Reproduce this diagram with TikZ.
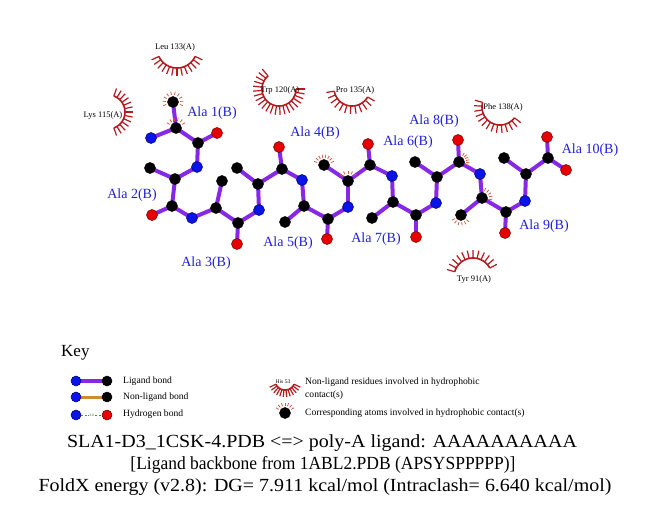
\documentclass[tikz,border=0pt]{standalone}
\usepackage{fontspec}
\setmainfont{Liberation Serif}
\usetikzlibrary{calc}
\pgfdeclarelayer{background}
\pgfsetlayers{background,main}
\definecolor{bondpurple}{RGB}{135,40,230}
\definecolor{atomblue}{RGB}{10,20,230}
\definecolor{atomred}{RGB}{230,0,0}
\definecolor{labelblue}{RGB}{30,30,220}
\definecolor{arcred}{RGB}{180,25,30}
\definecolor{spokered}{RGB}{215,90,70}
\definecolor{nlbond}{RGB}{205,140,50}
\definecolor{hbgreen}{RGB}{40,160,40}
\tikzset{
  atomC/.style={circle, fill=black, draw=black, line width=0.5pt, inner sep=0pt, minimum size=11pt},
  atomN/.style={atomC, fill=atomblue, draw=blue!40!black},
  atomO/.style={atomC, fill=atomred, draw=red!40!black},
  keyatom/.style={minimum size=10pt},
  lbond/.style={line width=4pt, draw=bondpurple},
  nbond/.style={line width=3pt, draw=nlbond},
  hbond/.style={line width=1pt, draw=hbgreen, dash pattern=on 2pt off 1.5pt},
  reslab/.style={font=\fontsize{14}{16}\selectfont, text=labelblue, inner sep=0pt},
  contlab/.style={font=\fontsize{8.5}{10}\selectfont, inner sep=0pt},
  harcline/.style={draw=arcred, line width=1.6pt},
  hspoke/.style={draw=arcred, line width=1.2pt},
  aspoke/.style={draw=spokered, line width=0.8pt},
  keytxt/.style={font=\fontsize{9.6}{11}\selectfont, anchor=west, inner sep=0pt},
  titletxt/.style={font=\fontsize{18.5}{21}\selectfont, inner sep=0pt},
}
% cx cy rin rout a1 a2 n
\newcommand\harc[7]{%
  \draw[harcline] plot[domain=#5:#6, samples=40, smooth] ({#1+#3*cos(\x)},{#2+#3*sin(\x)});
  \foreach \i in {0,...,#7}{
    \pgfmathsetmacro\tang{#5+(#6-#5)*\i/#7}
    \draw[hspoke] ({#1+#3*cos(\tang)},{#2+#3*sin(\tang)}) -- ({#1+#4*cos(\tang)},{#2+#4*sin(\tang)});
  }
}
% node a1 a2 n
\newcommand\aspk[4]{%
  \foreach \i in {0,...,#4}{
    \pgfmathsetmacro\tang{#2+(#3-#2)*\i/#4}
    \draw[aspoke] ($(#1)+(\tang:7.2)$) -- ($(#1)+(\tang:10.5)$);
  }
}
\begin{document}
\begin{tikzpicture}[x=1pt,y=-1pt]
\useasboundingbox (0,0) rectangle (651,511);
% ---------- atoms ----------
\node[atomN] (N1) at (151,138) {};
\node[atomC] (CA1) at (176,128) {};
\node[atomC] (CB1) at (173,102) {};
\node[atomC] (C1) at (198,143) {};
\node[atomO] (O1) at (217,133) {};
\node[atomN] (N2) at (197,167) {};
\node[atomC] (CA2) at (175,179) {};
\node[atomC] (CB2) at (150,168) {};
\node[atomC] (C2) at (172,206) {};
\node[atomO] (O2) at (152,215) {};
\node[atomN] (N3) at (192,218) {};
\node[atomC] (CA3) at (216,208) {};
\node[atomC] (CB3) at (222,181) {};
\node[atomC] (C3) at (238,223) {};
\node[atomO] (O3) at (237,244) {};
\node[atomN] (N4) at (259,210) {};
\node[atomC] (CA4) at (258,184) {};
\node[atomC] (CB4) at (237,168) {};
\node[atomC] (C4) at (282,169) {};
\node[atomO] (O4) at (279,147) {};
\node[atomN] (N5) at (302,180) {};
\node[atomC] (CA5) at (304,206) {};
\node[atomC] (CB5) at (285,222) {};
\node[atomC] (C5) at (328,219) {};
\node[atomO] (O5) at (327,239) {};
\node[atomN] (N6) at (348,207) {};
\node[atomC] (CA6) at (348,181) {};
\node[atomC] (CB6) at (324,165) {};
\node[atomC] (C6) at (370,165) {};
\node[atomO] (O6) at (368,144) {};
\node[atomN] (N7) at (392,176) {};
\node[atomC] (CA7) at (393,202) {};
\node[atomC] (CB7) at (372,218) {};
\node[atomC] (C7) at (416,215) {};
\node[atomO] (O7) at (416,237) {};
\node[atomN] (N8) at (436,203) {};
\node[atomC] (CA8) at (437,177) {};
\node[atomC] (CB8) at (415,162) {};
\node[atomC] (C8) at (459,162) {};
\node[atomO] (O8) at (458,140) {};
\node[atomN] (N9) at (480,174) {};
\node[atomC] (CA9) at (482,198) {};
\node[atomC] (CB9) at (461,215) {};
\node[atomC] (C9) at (506,212) {};
\node[atomO] (O9) at (505,233) {};
\node[atomN] (N10) at (525,201) {};
\node[atomC] (CA10) at (526,174) {};
\node[atomC] (CB10) at (504,158) {};
\node[atomC] (C10) at (548,158) {};
\node[atomO] (O10) at (547,137) {};
\node[atomO] (OXT) at (566,170) {};
% ---------- bonds ----------
\begin{pgfonlayer}{background}
\foreach \r in {1,...,10}{
  \draw[lbond] (N\r.center) -- (CA\r.center);
  \draw[lbond] (CA\r.center) -- (CB\r.center);
  \draw[lbond] (CA\r.center) -- (C\r.center);
  \draw[lbond] (C\r.center) -- (O\r.center);
}
\foreach \r/\s in {1/2,2/3,3/4,4/5,5/6,6/7,7/8,8/9,9/10}{
  \draw[lbond] (C\r.center) -- (N\s.center);
}
\draw[lbond] (C10.center) -- (OXT.center);
\end{pgfonlayer}
% ---------- hydrophobic atoms ----------
\aspk{CB1}{-200}{20}{9}
\aspk{CA1}{-150}{-30}{5}
\aspk{CB6}{-160}{-20}{7}
\aspk{CA6}{-140}{-40}{4}
\aspk{C8}{-60}{20}{5}
\aspk{CA9}{-70}{10}{4}
\aspk{CB9}{40}{150}{5}
% ---------- residue labels ----------
\node[reslab] (L1) at (212,113) {Ala 1(B)};
\node[reslab] (L2) at (132,195) {Ala 2(B)};
\node[reslab] (L3) at (206,263) {Ala 3(B)};
\node[reslab] (L4) at (315,133) {Ala 4(B)};
\node[reslab] (L5) at (288,243) {Ala 5(B)};
\node[reslab] (L6) at (408,142) {Ala 6(B)};
\node[reslab] (L7) at (376,239) {Ala 7(B)};
\node[reslab] (L8) at (434,121) {Ala 8(B)};
\node[reslab] (L9) at (544,226) {Ala 9(B)};
\node[reslab] (L10) at (590,150) {Ala 10(B)};
% ---------- contact residues ----------
\harc{177}{48}{20}{28}{25}{155}{12}
\node[contlab] (leu) at (175,47) {Leu 133(A)};
\harc{108}{112}{17}{25}{-70}{70}{12}
\node[contlab] (lys) at (103,115) {Lys 115(A)};
\harc{279}{89}{17}{26}{0}{230}{21}
\node[contlab] (trp) at (280,90) {Trp 120(A)};
\harc{352}{88}{18}{26}{30}{170}{11}
\node[contlab] (pro) at (355,90) {Pro 135(A)};
\harc{500}{107}{18}{26}{37}{195}{13}
\node[contlab] (phe) at (503,107) {Phe 138(A)};
\harc{473}{277}{19}{27}{-164}{-28}{11}
\node[contlab] (tyr) at (474,279) {Tyr 91(A)};
% ---------- key ----------
\node[font=\fontsize{17}{20}\selectfont, anchor=west, inner sep=0pt] (key) at (61,353) {Key};
\node[atomN, keyatom] (kN1) at (76,381) {};
\node[atomC, keyatom] (kC1) at (107,381) {};
\node[atomN, keyatom] (kN2) at (76,397) {};
\node[atomC, keyatom] (kC2) at (107,397) {};
\node[atomN, keyatom] (kN3) at (76,415) {};
\node[atomO, keyatom] (kO3) at (107,415) {};
\begin{pgfonlayer}{background}
\draw[lbond] (kN1.center) -- (kC1.center);
\draw[nbond] (kN2.center) -- (kC2.center);
\end{pgfonlayer}
\draw[hbond] (kN3) -- node[fill=white, inner sep=0.3pt, font=\fontsize{3.5}{4}\selectfont, text=hbgreen!60!black] {3.0} (kO3);
\node[keytxt] (t1) at (123,381) {Ligand bond};
\node[keytxt] (t2) at (123,397) {Non-ligand bond};
\node[keytxt] (t3) at (123,414) {Hydrogen bond};
\harc{285}{380}{10}{17}{25}{155}{11}
\node[font=\fontsize{5.5}{6}\selectfont, inner sep=0pt] (his) at (283,382) {His 53};
\node[keytxt] (t4) at (305,382) {Non-ligand residues involved in hydrophobic};
\node[keytxt] (t5) at (305,395) {contact(s)};
\node[atomC] (kH) at (285,413) {};
\aspk{kH}{-150}{-30}{6}
\node[keytxt] (t6) at (305,413) {Corresponding atoms involved in hydrophobic contact(s)};
% ---------- title ----------
\node[titletxt, xscale=1.08] (ti1) at (322,443) {SLA1-D3\_1CSK-4.PDB <=> poly-A ligand: AAAAAAAAAA};
\node[titletxt, xscale=0.945] (ti2) at (323,465) {[Ligand backbone from 1ABL2.PDB (APSYSPPPPP)]};
\node[titletxt, xscale=1.08] (ti3) at (325,487) {FoldX energy (v2.8): DG= 7.911 kcal/mol (Intraclash= 6.640 kcal/mol)};
\end{tikzpicture}
\end{document}
